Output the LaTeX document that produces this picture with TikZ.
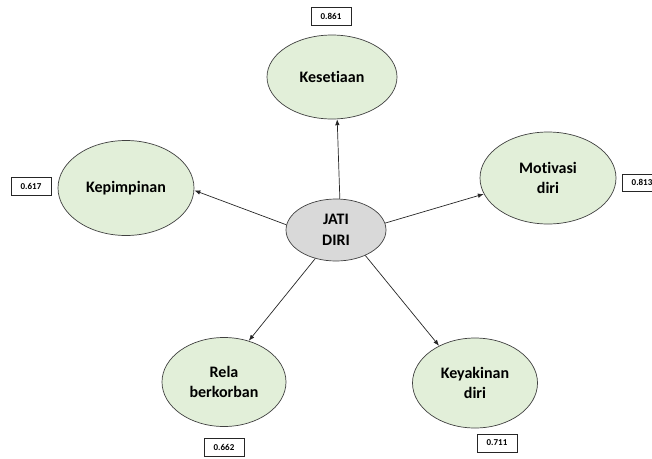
\documentclass[tikz,border=0pt]{standalone}
\usepackage{fontspec}
\setmainfont{Carlito}[Ligatures={NoCommon}]
\usetikzlibrary{shapes.geometric,arrows.meta}
\definecolor{lgreen}{HTML}{E2EFD9}
\definecolor{lgrey}{HTML}{D9D9D9}
\definecolor{edge}{HTML}{404040}
\tikzset{
  construct/.style={ellipse, draw=edge, line width=0.7pt, fill=lgreen, inner sep=0pt,
    align=center, font=\fontsize{16}{20.5}\selectfont\bfseries},
  centre/.style={construct, fill=lgrey},
  valbox/.style={draw=black!85, line width=0.7pt, fill=white, minimum width=40pt,
    minimum height=18pt, inner sep=0pt, font=\fontsize{9}{10}\selectfont\bfseries},
  link/.style={draw=black!85, line width=0.7pt, -{Latex[length=6pt,width=4.5pt]}}
}
\begin{document}
\begin{tikzpicture}[x=1pt,y=-1pt]
\useasboundingbox (0,0) rectangle (652,458);
\node[centre, minimum width=100pt, minimum height=62pt] (jati) at (336,230) {JATI\\DIRI};
\node[construct, minimum width=130pt, minimum height=84pt] (kes) at (332,77) {Kesetiaan};
\node[construct, minimum width=136pt, minimum height=95pt] (kep) at (126,188) {Kepimpinan};
\node[construct, minimum width=136pt, minimum height=92pt] (mot) at (548,178) {Motivasi\\diri};
\node[construct, minimum width=124pt, minimum height=89pt] (rela) at (224,382) {Rela\\berkorban};
\node[construct, minimum width=125pt, minimum height=90pt] (key) at (475,383) {Keyakinan\\diri};
\node[valbox] (b861) at (331,16.5) {0.861};
\node[valbox] (b617) at (31,186) {0.617};
\node[valbox, minimum height=17pt] (b813) at (642,182.5) {0.813};
\node[valbox] (b662) at (224,447) {0.662};
\node[valbox] (b711) at (497,443) {0.711};
\draw[link] (jati.83) -- (kes.-83);
\draw[link] (jati.174) -- (kep.-2);
\draw[link] (jati.8) -- (mot.-166);
\draw[link] (jati.234) -- (rela.59);
\draw[link] (jati.-41) -- (key.134);
\end{tikzpicture}
\end{document}
